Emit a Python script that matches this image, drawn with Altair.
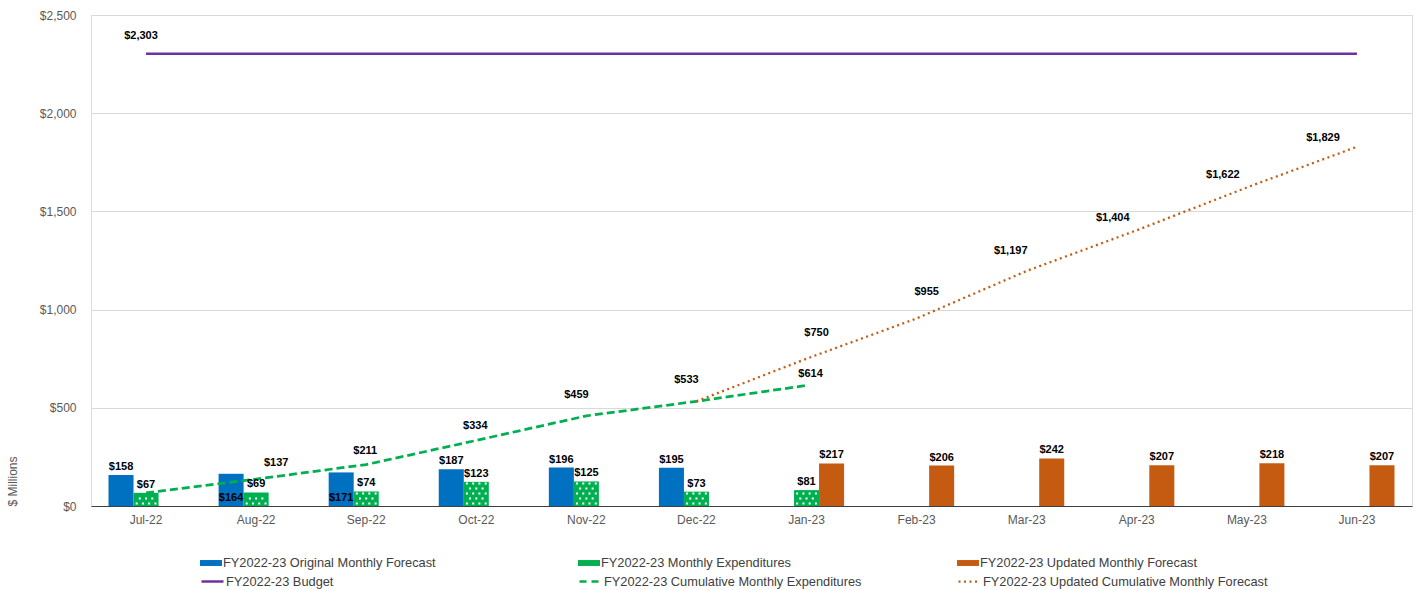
import altair as alt
import pandas as pd

# ---------------- data ----------------
months = ["Jul-22", "Aug-22", "Sep-22", "Oct-22", "Nov-22", "Dec-22",
          "Jan-23", "Feb-23", "Mar-23", "Apr-23", "May-23", "Jun-23"]

S_ORIG = "FY2022-23 Original Monthly Forecast"
S_EXP = "FY2022-23 Monthly Expenditures"
S_UPD = "FY2022-23 Updated Monthly Forecast"
S_BUD = "FY2022-23 Budget"
S_CUM = "FY2022-23 Cumulative Monthly Expenditures"
S_UCUM = "FY2022-23 Updated Cumulative Monthly Forecast"

orig_months = ["Jul-22", "Aug-22", "Sep-22", "Oct-22", "Nov-22", "Dec-22"]
orig_values = [158, 164, 171, 187, 196, 195]

exp_months = ["Jul-22", "Aug-22", "Sep-22", "Oct-22", "Nov-22", "Dec-22", "Jan-23"]
exp_values = [67, 69, 74, 123, 125, 73, 81]

upd_months = ["Jan-23", "Feb-23", "Mar-23", "Apr-23", "May-23", "Jun-23"]
upd_values = [217, 206, 242, 207, 218, 207]

budget_value = 2303

cum_months = ["Jul-22", "Aug-22", "Sep-22", "Oct-22", "Nov-22", "Dec-22", "Jan-23"]
cum_values = [67, 137, 211, 334, 459, 533, 614]

ucum_months = ["Dec-22", "Jan-23", "Feb-23", "Mar-23", "Apr-23", "May-23", "Jun-23"]
ucum_values = [533, 750, 955, 1197, 1404, 1622, 1829]

# ---------------- styling ----------------
C_BLUE = "#0070C0"
C_GREEN = "#00B050"
C_ORANGE = "#C55A11"
C_PURPLE = "#7030A0"
FONT = "Liberation Sans"
W, H = 1321, 491
YMAX = 2500


def fmt(v):
    return "${:,.0f}".format(v)


def frame(ms, vs, series):
    return pd.DataFrame({"month": ms, "value": vs, "series": series,
                         "label": [fmt(v) for v in vs]})


orig_df = frame(orig_months, orig_values, S_ORIG)
exp_df = frame(exp_months, exp_values, S_EXP)
upd_df = frame(upd_months, upd_values, S_UPD)
bud_df = frame(months, [budget_value] * len(months), S_BUD)
cum_df = frame(cum_months, cum_values, S_CUM)
ucum_df = frame(ucum_months, ucum_values, S_UCUM)

# white dot pattern inside the expenditure bars (decoration derived from values)
px_per_unit = H / YMAX
dot_rows = []
for m, v in zip(exp_months, exp_values):
    h = v * px_per_unit
    k = 0
    while 2.5 + 5 * k <= h - 1.5:
        dot_rows.append({"month": m, "value": (2.5 + 5 * k) / px_per_unit, "parity": k % 2})
        k += 1
dots_df = pd.DataFrame(dot_rows)

# ---------------- encodings ----------------
x_scale = alt.Scale(domain=months, paddingInner=0.318, paddingOuter=0.159)
xoff_scale = alt.Scale(domain=[S_ORIG, S_EXP, S_UPD], paddingInner=0, paddingOuter=0)
y_scale = alt.Scale(domain=[0, YMAX], nice=False, zero=True)

x_axis = alt.Axis(title=None, labelFont=FONT, labelFontSize=12, labelColor="#595959",
                  labelPadding=8, ticks=False, domainColor="#404040", domainWidth=1,
                  grid=False, labelAngle=0)
y_axis = alt.Axis(title="$ Millions", values=[0, 500, 1000, 1500, 2000, 2500],
                  format="$,.0f", labelFont=FONT, labelFontSize=12, labelColor="#595959",
                  labelPadding=15, ticks=False, domain=False, gridColor="#d9d9d9",
                  gridWidth=1, titleFont=FONT, titleFontSize=12, titleFontWeight="normal",
                  titleColor="#595959", titleX=-79, titleY=H, titleAlign="left",
                  titleAngle=270, titleBaseline="middle")

X = alt.X("month:N", scale=x_scale, sort=months, axis=x_axis)
Y = alt.Y("value:Q", scale=y_scale, axis=y_axis)
XO = alt.XOffset("series:N", scale=xoff_scale)

RECT = "M-1,-0.27H1V0.27H-1Z"


def legend(lx, ly, **kw):
    base = dict(title=None, orient="none", legendX=lx, legendY=ly, padding=0,
                labelFont=FONT, labelFontSize=12.8, labelColor="#404040", labelOffset=1,
                labelLimit=0, symbolSize=484)
    base.update(kw)
    return alt.Legend(**base)


def color(series, col, lg):
    return alt.Color("series:N", scale=alt.Scale(domain=[series], range=[col]), legend=lg)


LX1, LX2, LX3 = 109, 487, 866
LY1, LY2 = 537, 554

bar_orig = alt.Chart(orig_df).mark_bar().encode(
    x=X, xOffset=XO, y=Y,
    color=color(S_ORIG, C_BLUE, legend(LX1, LY1, symbolType=RECT, symbolStrokeWidth=0)))
bar_exp = alt.Chart(exp_df).mark_bar().encode(
    x=X, xOffset=XO, y=Y,
    color=color(S_EXP, C_GREEN, legend(LX2, LY1, symbolType=RECT, symbolStrokeWidth=0)))
bar_upd = alt.Chart(upd_df).mark_bar().encode(
    x=X, xOffset=XO, y=Y,
    color=color(S_UPD, C_ORANGE, legend(LX3, LY1, symbolType=RECT, symbolStrokeWidth=0)))

dot_layers = []
for parity, offs in [(0, [-9.4, -3.1, 3.1, 9.4]), (1, [-6.25, 0, 6.25])]:
    for o in offs:
        dot_layers.append(
            alt.Chart(dots_df).transform_filter(alt.datum.parity == parity)
            .mark_square(size=4, color="white", opacity=1, filled=True, xOffset=o)
            .encode(x=X, y=Y))

line_bud = alt.Chart(bud_df).mark_line(strokeWidth=2.5).encode(
    x=X, y=Y,
    color=color(S_BUD, C_PURPLE, legend(LX1, LY2, symbolType="stroke", symbolStrokeWidth=2.5)))
line_cum = alt.Chart(cum_df).mark_line(strokeWidth=2.75, strokeDash=[8, 4]).encode(
    x=X, y=Y,
    color=color(S_CUM, C_GREEN, legend(LX2, LY2, symbolType="stroke", symbolStrokeWidth=2.5,
                                       symbolDash=[7, 5, 7, 3])))
line_ucum = alt.Chart(ucum_df).mark_line(strokeWidth=2.25, strokeDash=[2, 3.5]).encode(
    x=X, y=Y,
    color=color(S_UCUM, C_ORANGE, legend(LX3, LY2, symbolType="stroke", symbolStrokeWidth=2.25,
                                         symbolDash=[2, 3.5])))

TXT = dict(font=FONT, fontSize=11, fontWeight="bold", color="black")


def bar_labels(df, months_sel=None, at_zero=False):
    ch = alt.Chart(df)
    if months_sel is not None:
        ch = ch.transform_filter(alt.FieldOneOfPredicate(field="month", oneOf=months_sel))
    y = alt.Y(datum=0, scale=y_scale, axis=y_axis) if at_zero else Y
    return ch.mark_text(baseline="bottom", dy=-3, **TXT).encode(
        x=X, xOffset=XO, y=y, text="label:N")


def line_labels(df, months_sel, dx, dy):
    return (alt.Chart(df)
            .transform_filter(alt.FieldOneOfPredicate(field="month", oneOf=months_sel))
            .mark_text(baseline="middle", dx=dx, dy=dy, **TXT)
            .encode(x=X, y=Y, text="label:N"))


labels = [
    bar_labels(orig_df, ["Jul-22", "Oct-22", "Nov-22", "Dec-22"]),
    bar_labels(orig_df, ["Aug-22", "Sep-22"], at_zero=True),
    bar_labels(exp_df),
    bar_labels(upd_df),
    line_labels(bud_df, ["Jul-22"], -5, -18),
    line_labels(cum_df, ["Aug-22"], 20, -16),
    line_labels(cum_df, ["Sep-22", "Oct-22"], -1, -14),
    line_labels(cum_df, ["Nov-22", "Dec-22"], -10, -21),
    line_labels(cum_df, ["Jan-23"], 4, -11),
    line_labels(ucum_df, ["Jan-23", "Feb-23"], 10, -26),
    line_labels(ucum_df, ["Mar-23"], -16, -20),
    line_labels(ucum_df, ["Apr-23", "May-23"], -24, -12),
    line_labels(ucum_df, ["Jun-23"], -34, -9),
]

chart = alt.layer(
    bar_orig, bar_exp, bar_upd, *dot_layers, line_bud, line_cum, line_ucum, *labels
).resolve_scale(color="independent").properties(
    width=W, height=H,
    padding={"left": 91, "top": 15, "right": 6, "bottom": 84},
    autosize=alt.AutoSizeParams(type="none"),
).configure_view(stroke=None).configure(font=FONT)

chart.save("out.html", embed_options={"renderer": "svg", "actions": False})
